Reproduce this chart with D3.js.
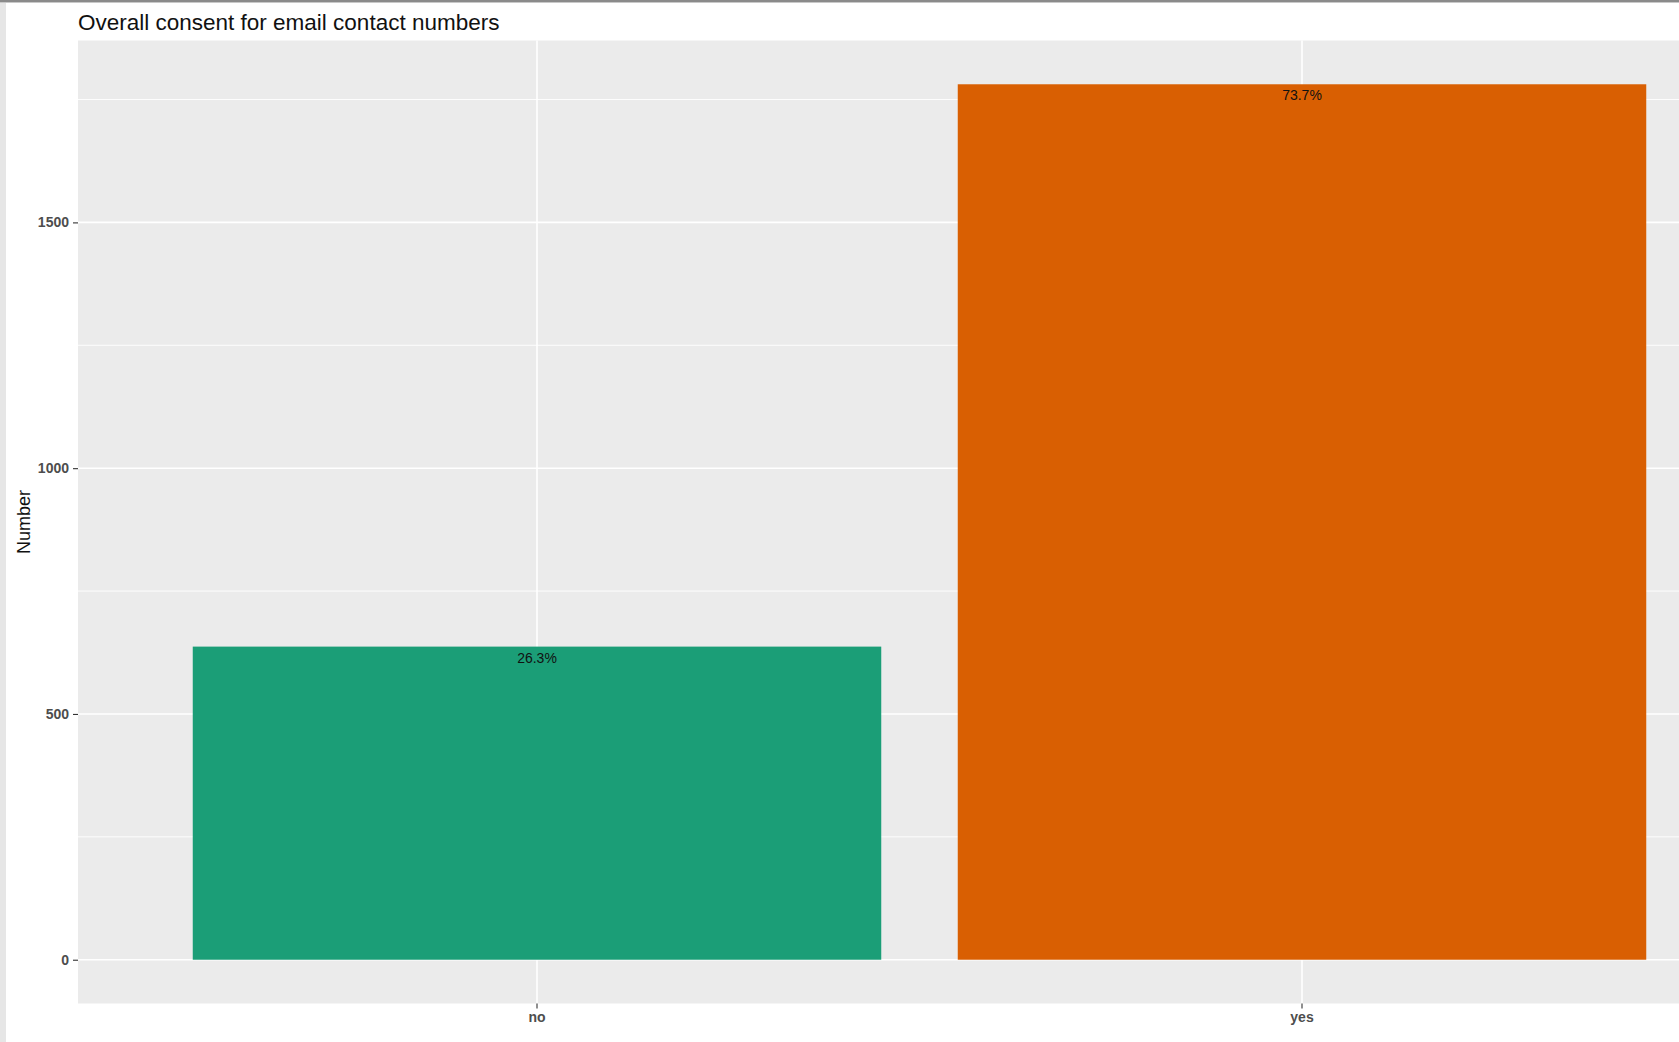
<!DOCTYPE html>
<html>
<head>
<meta charset="utf-8">
<script src="https://cdn.jsdelivr.net/npm/d3@7/dist/d3.min.js"></script>
<style>
  html, body { margin: 0; padding: 0; background: #fff; }
  svg { display: block; font-family: "Liberation Sans", Arial, sans-serif; }
</style>
</head>
<body>
<svg id="chart" width="1679" height="1042"></svg>
<script>
const categories = ["no", "yes"];
const counts = [637, 1781];
const colors = ["#1b9e77", "#d95f02"];
const yTicks = [0, 500, 1000, 1500];
const yMinorTicks = [250, 750, 1250, 1750];
const title = "Overall consent for email contact numbers";
const yTitle = "Number";

const W = 1679, H = 1042;
const panel = { left: 78, top: 40.5, bottom: 1003.5, right: 1761 };

const svg = d3.select("#chart");

// page frame
svg.append("rect").attr("x", 0).attr("y", 0).attr("width", W).attr("height", H).attr("fill", "#fff");
svg.append("rect").attr("x", 0).attr("y", 0).attr("width", 6).attr("height", H).attr("fill", "#e6e6e6");
svg.append("rect").attr("x", 0).attr("y", 0).attr("width", W).attr("height", 2).attr("fill", "#8a8a8a");
svg.append("rect").attr("x", 0).attr("y", 2).attr("width", W).attr("height", 1).attr("fill", "#c8c8c8");

const total = d3.sum(counts);
const maxV = d3.max(counts);
const y = d3.scaleLinear()
  .domain([-0.05 * maxV, maxV * 1.05])
  .range([panel.bottom, panel.top]);

const x = d3.scaleBand()
  .domain(categories)
  .range([panel.left, panel.right])
  .paddingInner(0.1)
  .paddingOuter(0.15);

// panel background
svg.append("rect")
  .attr("x", panel.left).attr("y", panel.top)
  .attr("width", panel.right - panel.left).attr("height", panel.bottom - panel.top)
  .attr("fill", "#ebebeb");

// minor gridlines
svg.append("g").selectAll("line").data(yMinorTicks).join("line")
  .attr("x1", panel.left).attr("x2", panel.right)
  .attr("y1", d => y(d)).attr("y2", d => y(d))
  .attr("stroke", "#fff").attr("stroke-width", 0.9);

// major gridlines
svg.append("g").selectAll("line").data(yTicks).join("line")
  .attr("x1", panel.left).attr("x2", panel.right)
  .attr("y1", d => y(d)).attr("y2", d => y(d))
  .attr("stroke", "#fff").attr("stroke-width", 1.6);

svg.append("g").selectAll("line").data(categories).join("line")
  .attr("x1", d => x(d) + x.bandwidth() / 2).attr("x2", d => x(d) + x.bandwidth() / 2)
  .attr("y1", panel.top).attr("y2", panel.bottom)
  .attr("stroke", "#fff").attr("stroke-width", 1.6);

// bars
svg.append("g").selectAll("rect").data(categories).join("rect")
  .attr("x", d => x(d))
  .attr("width", x.bandwidth())
  .attr("y", (d, i) => y(counts[i]))
  .attr("height", (d, i) => y(0) - y(counts[i]))
  .attr("fill", (d, i) => colors[i]);

// bar labels
svg.append("g").selectAll("text").data(categories).join("text")
  .attr("x", d => x(d) + x.bandwidth() / 2)
  .attr("y", (d, i) => y(counts[i]) + 16)
  .attr("text-anchor", "middle")
  .attr("font-size", 14)
  .attr("fill", "#111")
  .text((d, i) => (100 * counts[i] / total).toFixed(1) + "%");

// y axis
const yAxis = svg.append("g")
  .attr("transform", `translate(${panel.left},0)`)
  .call(d3.axisLeft(y).tickValues(yTicks).tickSize(5).tickPadding(4).tickFormat(d3.format("d")));
yAxis.select(".domain").remove();
yAxis.selectAll(".tick line").attr("stroke", "#333").attr("stroke-width", 1.1);
yAxis.selectAll(".tick text")
  .attr("font-family", "Liberation Sans, Arial, sans-serif")
  .attr("font-size", 14).attr("font-weight", "bold").attr("fill", "#4d4d4d");

// x axis
const xAxis = svg.append("g")
  .attr("transform", `translate(0,${panel.bottom})`)
  .call(d3.axisBottom(x).tickSize(5).tickPadding(4));
xAxis.select(".domain").remove();
xAxis.selectAll(".tick line").attr("stroke", "#333").attr("stroke-width", 1.1);
xAxis.selectAll(".tick text")
  .attr("font-family", "Liberation Sans, Arial, sans-serif")
  .attr("font-size", 14).attr("font-weight", "bold").attr("fill", "#4d4d4d");

// title
svg.append("text")
  .attr("x", panel.left).attr("y", 29.5)
  .attr("font-size", 22.5).attr("fill", "#111")
  .text(title);

// y title
svg.append("text")
  .attr("transform", `translate(30,${(panel.top + panel.bottom) / 2}) rotate(-90)`)
  .attr("text-anchor", "middle")
  .attr("font-size", 18).attr("fill", "#111")
  .text(yTitle);
</script>
</body>
</html>
